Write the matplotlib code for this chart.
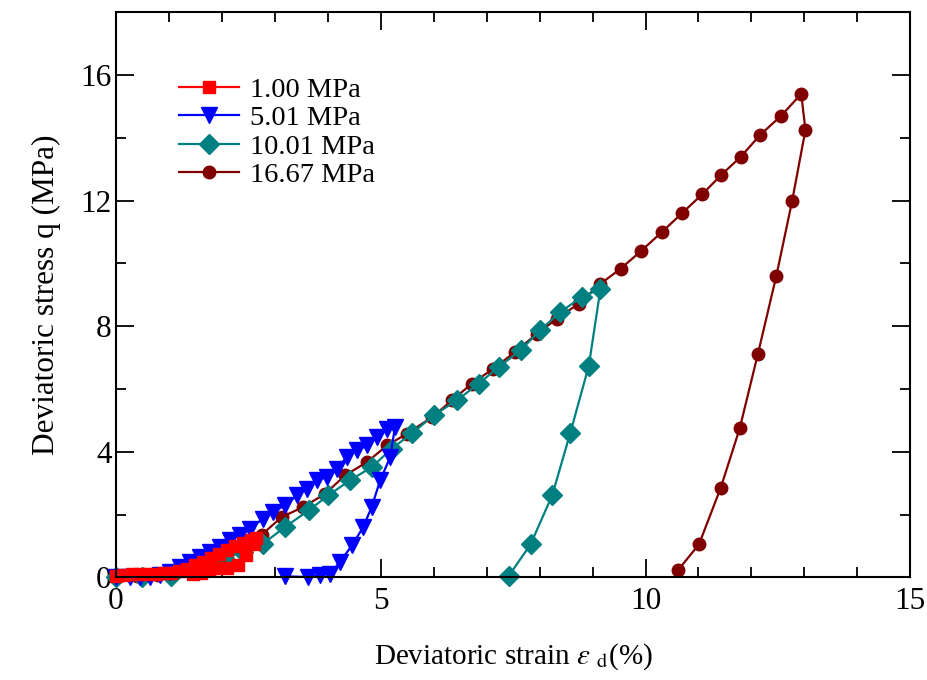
import matplotlib
matplotlib.use('Agg')
import matplotlib.pyplot as plt
from matplotlib.ticker import MultipleLocator

matplotlib.rcParams.update({
    'font.family': 'serif',
    'font.serif': ['Liberation Serif', 'DejaVu Serif'],
    'mathtext.fontset': 'stix',
    'font.size': 20,
})

# 1.00 MPa
x_100 = [0.0, 0.15, 0.3, 0.45, 0.6, 0.75, 0.9, 1.05, 1.2, 1.35, 1.5, 1.65, 1.8, 1.95, 2.1, 2.25,
         2.4, 2.55, 2.65, 2.6, 2.45, 2.3, 2.1, 1.9, 1.75, 1.6, 1.45]
y_100 = [0.05, 0.08, 0.1, 0.1, 0.12, 0.12, 0.14, 0.15, 0.2, 0.28, 0.38, 0.5, 0.62, 0.75, 0.88, 1.0,
         1.1, 1.2, 1.25, 1.05, 0.72, 0.38, 0.3, 0.3, 0.22, 0.15, 0.1]

# 5.01 MPa
x_501 = [0.0, 0.26, 0.45, 0.64, 0.83, 1.02, 1.21, 1.40, 1.59, 1.78, 1.97, 2.16, 2.34, 2.53, 2.78,
         2.97, 3.19, 3.42, 3.60, 3.79, 3.98, 4.17, 4.36, 4.55, 4.74, 4.93, 5.12, 5.27,
         5.18, 4.99, 4.83, 4.67, 4.46, 4.23, 4.05, 3.86, 3.63, 3.19]
y_501 = [0.0, 0.0, 0.0, 0.01, 0.06, 0.17, 0.33, 0.49, 0.65, 0.81, 0.96, 1.18, 1.34, 1.55, 1.87,
         2.08, 2.29, 2.61, 2.82, 3.09, 3.19, 3.46, 3.83, 4.04, 4.20, 4.47, 4.74, 4.79,
         3.83, 3.09, 2.24, 1.6, 1.02, 0.49, 0.12, 0.06, 0.01, 0.03]

# 10.01 MPa
x_1001 = [0.0, 0.5, 1.05, 1.55, 2.05, 2.4, 2.78, 3.19, 3.64, 4.01, 4.42, 4.83, 5.21, 5.6, 6.0,
          6.44, 6.85, 7.23, 7.64, 8.01, 8.39, 8.80, 9.15, 8.93, 8.58, 8.24, 7.83, 7.42]
y_1001 = [0.0, 0.02, 0.05, 0.22, 0.6, 0.82, 1.07, 1.6, 2.13, 2.61, 3.09, 3.51, 4.1, 4.6, 5.16,
          5.64, 6.17, 6.70, 7.23, 7.87, 8.45, 8.93, 9.19, 6.74, 4.6, 2.62, 1.05, 0.05]

# 16.67 MPa
x_1667 = [0.0, 0.4, 0.8, 1.2, 1.6, 2.0, 2.35, 2.75, 3.13, 3.54, 3.95, 4.33, 4.74, 5.12, 5.5,
          5.97, 6.35, 6.72, 7.13, 7.54, 7.95, 8.33, 8.74, 9.15, 9.53, 9.92, 10.31, 10.69, 11.07,
          11.42, 11.80, 12.17, 12.56, 12.94, 13.02, 12.77, 12.47, 12.12, 11.78, 11.42, 11.01, 10.61]
y_1667 = [0.0, 0.03, 0.08, 0.2, 0.4, 0.65, 0.95, 1.35, 1.92, 2.24, 2.66, 3.25, 3.67, 4.2, 4.58,
          5.1, 5.64, 6.17, 6.65, 7.18, 7.76, 8.24, 8.72, 9.35, 9.83, 10.4, 11.0, 11.6, 12.2,
          12.8, 13.4, 14.1, 14.7, 15.4, 14.25, 12.0, 9.6, 7.1, 4.75, 2.85, 1.05, 0.22]

series = [
    ('16.67 MPa', x_1667, y_1667, '#800000', 'o', 9),
    ('10.01 MPa', x_1001, y_1001, '#008080', 'D', 10),
    ('5.01 MPa', x_501, y_501, '#0000FF', 'v', 11),
    ('1.00 MPa', x_100, y_100, '#FF0000', 's', 9),
]

fig = plt.figure(figsize=(9.27, 6.8), dpi=100)
ax = fig.add_axes([0.125, 0.151, 0.857, 0.831])

handles = {}
for label, xs, ys, col, mk, ms in series:
    h, = ax.plot(xs, ys, color=col, marker=mk, markersize=ms, lw=1.6,
                 markeredgecolor=col, label=label, clip_on=False)
    handles[label] = h

order = ['1.00 MPa', '5.01 MPa', '10.01 MPa', '16.67 MPa']
ax.legend([handles[k] for k in order], order, loc='upper left',
          bbox_to_anchor=(0.065, 0.905), frameon=False, fontsize=20.5,
          handlelength=2.1, handletextpad=0.4, labelspacing=0.08, borderaxespad=0)

ax.set_xlim(0, 15)
ax.set_ylim(0, 18)
ax.xaxis.set_major_locator(MultipleLocator(5))
ax.xaxis.set_minor_locator(MultipleLocator(1))
ax.yaxis.set_major_locator(MultipleLocator(4))
ax.yaxis.set_minor_locator(MultipleLocator(2))
ax.tick_params(which='both', direction='in', top=True, right=True, width=1.3)
ax.tick_params(which='major', length=13, labelsize=22.5, pad=3)
ax.tick_params(axis='x', which='major', pad=7)
ax.tick_params(which='minor', length=7)
for s in ax.spines.values():
    s.set_linewidth(1.5)

ax.set_xlabel(r'Deviatoric strain $\varepsilon$ $_{\mathrm{d}}$(%)', fontsize=21, labelpad=18)
ax.set_ylabel('Deviatoric stress q (MPa)', fontsize=22.5, labelpad=14)

fig.savefig('out.png', dpi=100)
